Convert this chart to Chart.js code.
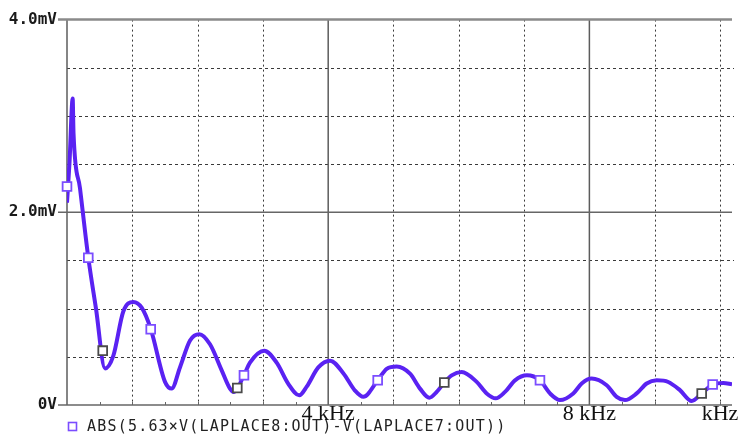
<!DOCTYPE html>
<html>
<head>
<meta charset="utf-8">
<script src="https://cdn.jsdelivr.net/npm/chart.js@4/dist/chart.umd.min.js"></script>
<style>
  html, body { margin: 0; padding: 0; background: #ffffff; }
  #wrap { width: 742px; height: 436px; }
</style>
</head>
<body>
<div id="wrap"><canvas id="c" width="742" height="436"></canvas></div>
<script>
// ---- Data (x in kHz, y in mV) ----
const freqKHz = [0.000, 0.038, 0.087, 0.100, 0.199, 0.326, 0.444, 0.582, 0.709, 0.862,
  1.015, 1.144, 1.282, 1.501, 1.603, 1.730, 1.884, 2.026, 2.190, 2.369,
  2.496, 2.557, 2.710, 2.802, 3.021, 3.211, 3.389, 3.557, 3.671, 3.848,
  4.028, 4.231, 4.410, 4.538, 4.758, 4.896, 5.049, 5.253, 5.406, 5.548,
  5.662, 5.778, 5.891, 6.044, 6.274, 6.427, 6.565, 6.708, 6.861, 7.044,
  7.243, 7.397, 7.550, 7.753, 7.882, 8.035, 8.265, 8.418, 8.545, 8.724,
  8.877, 9.031, 9.208, 9.387, 9.567, 9.720, 9.888, 10.051, 10.184];
const ampMV = [2.10, 2.51, 3.18, 2.82, 2.25, 1.53, 1.00, 0.38, 0.51, 0.97,
  1.07, 1.01, 0.79, 0.24, 0.17, 0.39, 0.67, 0.735, 0.63, 0.36,
  0.17, 0.136, 0.31, 0.44, 0.564, 0.44, 0.22, 0.10, 0.19, 0.39,
  0.46, 0.33, 0.15, 0.085, 0.256, 0.376, 0.40, 0.325, 0.17, 0.075,
  0.136, 0.233, 0.308, 0.342, 0.24, 0.12, 0.069, 0.136, 0.256, 0.308,
  0.256, 0.12, 0.051, 0.12, 0.223, 0.274, 0.205, 0.085, 0.051, 0.12,
  0.223, 0.256, 0.239, 0.154, 0.041, 0.12, 0.212, 0.229, 0.215];

// Trace markers (purple-outlined and dark-outlined squares)
const markerFreqPurple = [0.000, 0.326, 1.282, 2.710, 4.758, 7.243, 9.888];
const markerAmpPurple  = [2.267, 1.528, 0.787, 0.308, 0.256, 0.256, 0.212];
const markerFreqDark   = [0.547, 2.608, 5.778, 9.720];
const markerAmpDark    = [0.564, 0.177, 0.233, 0.120];

// Tick labels
const yLabelValues = [0, 2, 4];
const yLabelTexts  = ['0V', '2.0mV', '4.0mV'];
const xLabelValues = [4, 8, 10];
const xLabelTexts  = ['4 kHz', '8 kHz', 'kHz'];

const seriesName = 'ABS(5.63×V(LAPLACE8:OUT)-V(LAPLACE7:OUT))';

// Axis ranges / grid steps
const xMin = 0, xMax = 10.184, xStep = 1;
const yMin = 0, yMax = 4, yStep = 0.5;
const xMajor = [0, 4, 8];
const yMajor = [0, 2, 4];

const TRACE = '#5a22f2';
const MARK = '#7b4dff';
const toPts = (xs, ys) => xs.map((x, i) => ({ x: x, y: ys[i] }));

const gridPlugin = {
  id: 'pspiceGrid',
  beforeDatasetsDraw(chart) {
    const { ctx, chartArea: a, scales } = chart;
    const xs = scales.x, ys = scales.y;
    ctx.save();
    ctx.strokeStyle = '#3a3a3a';
    ctx.lineWidth = 1;
    ctx.setLineDash([3, 3]);
    for (let v = yMin + yStep; v < yMax - 1e-9; v += yStep) {
      if (yMajor.some(m => Math.abs(m - v) < 1e-9)) continue;
      const py = Math.round(ys.getPixelForValue(v)) + 0.5;
      ctx.beginPath(); ctx.moveTo(a.left, py); ctx.lineTo(a.right + 2, py); ctx.stroke();
    }
    ctx.setLineDash([2, 3]);
    for (let v = xMin + xStep; v <= xMax + 1e-9; v += xStep) {
      if (xMajor.some(m => Math.abs(m - v) < 1e-9)) continue;
      const px = Math.round(xs.getPixelForValue(v)) + 0.5;
      ctx.beginPath(); ctx.moveTo(px, a.top); ctx.lineTo(px, a.bottom); ctx.stroke();
    }
    ctx.setLineDash([]);
    ctx.strokeStyle = '#5c5c5c';
    ctx.lineWidth = 1.5;
    xMajor.forEach(v => {
      const px = xs.getPixelForValue(v);
      ctx.beginPath(); ctx.moveTo(px, a.top); ctx.lineTo(px, a.bottom); ctx.stroke();
    });
    yMajor.forEach(v => {
      const py = ys.getPixelForValue(v);
      ctx.strokeStyle = v === yMax ? '#8a8a8a' : '#666666';
      ctx.lineWidth = v === yMax ? 2.5 : 1.6;
      ctx.beginPath(); ctx.moveTo(a.left - 9, py); ctx.lineTo(a.right, py); ctx.stroke();
    });
    ctx.strokeStyle = '#666666';
    ctx.lineWidth = 1;
    for (let v = xMin + xStep / 2; v <= xMax; v += xStep / 2) {
      const px = Math.round(xs.getPixelForValue(v)) + 0.5;
      ctx.beginPath(); ctx.moveTo(px, a.bottom); ctx.lineTo(px, a.bottom - 3); ctx.stroke();
    }
    ctx.restore();
  },
  afterDraw(chart) {
    const { ctx } = chart;
    ctx.save();
    ctx.fillStyle = '#ffffff';
    ctx.strokeStyle = MARK;
    ctx.lineWidth = 1.6;
    ctx.fillRect(68.5, 422.5, 8, 8);
    ctx.strokeRect(68.5, 422.5, 8, 8);
    ctx.fillStyle = '#222222';
    ctx.font = '15px "DejaVu Sans Mono"';
    try { ctx.letterSpacing = '1.2px'; } catch (e) {}
    ctx.textBaseline = 'middle';
    ctx.textAlign = 'left';
    ctx.fillText(chart.data.datasets[0].label, 87, 427);
    ctx.restore();
  }
};

new Chart(document.getElementById('c'), {
  type: 'line',
  data: {
    datasets: [
      {
        label: seriesName,
        data: toPts(freqKHz, ampMV),
        borderColor: TRACE,
        borderWidth: 4,
        pointRadius: 0,
        cubicInterpolationMode: 'monotone',
        fill: false,
        order: 2
      },
      {
        label: 'markers',
        type: 'scatter',
        data: toPts(markerFreqPurple, markerAmpPurple),
        pointStyle: 'rect',
        pointRadius: 6.2,
        backgroundColor: '#ffffff',
        borderColor: MARK,
        borderWidth: 1.8,
        clip: false,
        order: 1
      },
      {
        label: 'markers2',
        type: 'scatter',
        data: toPts(markerFreqDark, markerAmpDark),
        pointStyle: 'rect',
        pointRadius: 6.2,
        backgroundColor: '#ffffff',
        borderColor: '#4a4a4a',
        borderWidth: 1.8,
        clip: false,
        order: 1
      }
    ]
  },
  options: {
    responsive: false,
    animation: false,
    layout: { padding: { top: 15, right: 10, left: 0, bottom: 0 } },
    plugins: { legend: { display: false }, tooltip: { enabled: false } },
    scales: {
      x: {
        type: 'linear',
        min: xMin, max: xMax,
        grid: { display: false, drawTicks: false },
        border: { display: false },
        afterFit(s) { s.height = 31; },
        ticks: {
          stepSize: xStep,
          includeBounds: false,
          autoSkip: false,
          maxRotation: 0,
          padding: -4,
          color: '#111111',
          font: { family: '"Liberation Serif", "DejaVu Serif", serif', size: 22 },
          callback(v) {
            const i = xLabelValues.findIndex(t => Math.abs(t - v) < 1e-6);
            return i >= 0 ? xLabelTexts[i] : '';
          }
        }
      },
      y: {
        type: 'linear',
        min: yMin, max: yMax,
        grid: { display: false, drawTicks: false },
        border: { display: false },
        afterFit(s) { s.width = 67; },
        ticks: {
          stepSize: yStep,
          autoSkip: false,
          padding: 10,
          color: '#1a1a1a',
          font: { family: '"DejaVu Sans Mono", monospace', size: 16, weight: 'bold' },
          callback(v) {
            const i = yLabelValues.findIndex(t => Math.abs(t - v) < 1e-6);
            return i >= 0 ? yLabelTexts[i] : '';
          }
        }
      }
    }
  },
  plugins: [gridPlugin]
});
</script>
</body>
</html>
